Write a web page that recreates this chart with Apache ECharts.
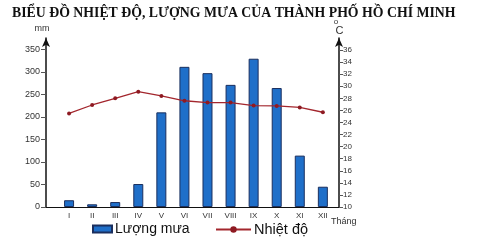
<!DOCTYPE html>
<html>
<head>
<meta charset="utf-8">
<script src="https://cdn.jsdelivr.net/npm/echarts@6/dist/echarts.min.js"></script>
<style>
html,body{margin:0;padding:0;background:#fff;}
#c{width:485px;height:241px;}
</style>
</head>
<body>
<div id="c"></div>
<script>
const months = ['I','II','III','IV','V','VI','VII','VIII','IX','X','XI','XII'];
const rainfall = [15, 6, 11, 51, 210, 311, 297, 271, 329, 264, 114, 45];
const temperature = [25.5, 26.9, 28.0, 29.1, 28.4, 27.6, 27.3, 27.3, 26.8, 26.75, 26.5, 25.7];
const titleText = 'BIỂU ĐỒ NHIỆT ĐỘ, LƯỢNG MƯA CỦA THÀNH PHỐ HỒ CHÍ MINH';

const rainData = rainfall.map((v, i) => [i + 1, v]);
const tempData = temperature.map((v, i) => [i + 1, v]);

const chart = echarts.init(document.getElementById('c'), null, {renderer: 'canvas'});
chart.setOption({
  animation: false,
  backgroundColor: '#fff',
  textStyle: {fontFamily: 'Liberation Sans'},
  title: {
    text: titleText,
    left: 12,
    top: 6,
    padding: 0,
    textStyle: {fontFamily: 'Liberation Serif', fontWeight: 'bold', fontSize: 13.8, color: '#111'}
  },
  grid: {left: 46, right: 146, top: 38, bottom: 34},
  legend: [
    {
      data: [{name: 'Lượng mưa', icon: 'rect'}],
      left: 92, top: 222, padding: 0,
      itemWidth: 19, itemHeight: 7,
      textStyle: {fontSize: 14, color: '#111', fontFamily: 'Liberation Sans', padding: [0, 0, 0, -2]}
    },
    {
      data: ['Nhiệt độ'],
      left: 215, top: 222, padding: 0,
      itemWidth: 35, itemHeight: 8,
      textStyle: {fontSize: 14.5, color: '#111', fontFamily: 'Liberation Sans', padding: [0, 0, 0, -2]}
    }
  ],
  xAxis: {
    type: 'value',
    min: 0, max: 12.7, interval: 1,
    splitLine: {show: false},
    axisTick: {show: false},
    axisLine: {lineStyle: {color: '#111', width: 1.2}},
    axisLabel: {
      fontSize: 8, color: '#333', margin: 5,
      formatter: v => (Number.isInteger(v) && v >= 1 && v <= 12) ? months[v - 1] : ''
    }
  },
  yAxis: [
    {
      type: 'value',
      min: 0, max: 375, interval: 50,
      name: 'mm', nameGap: 5,
      nameTextStyle: {fontSize: 9, color: '#333', padding: [0, 8, 0, 0]},
      splitLine: {show: false},
      axisLine: {show: true, symbol: ['none', 'arrow'], symbolSize: [6, 9], lineStyle: {color: '#111', width: 1.5}},
      axisTick: {show: true, length: 5, lineStyle: {color: '#555'}},
      axisLabel: {fontSize: 9, color: '#333', margin: 6, showMaxLabel: false}
    },
    {
      type: 'value',
      position: 'right',
      min: 10, max: 38, interval: 2,
      name: '{o|o}\n{c|C}', nameGap: 2,
      nameTextStyle: {
        rich: {
          o: {fontSize: 8, color: '#333', lineHeight: 8, padding: [0, 6, 0, 0]},
          c: {fontSize: 11, color: '#333', lineHeight: 10, padding: [0, 0, 0, 1]}
        }
      },
      splitLine: {show: false},
      axisLine: {show: true, symbol: ['none', 'arrow'], symbolSize: [6, 9], lineStyle: {color: '#111', width: 1.5}},
      axisTick: {show: true, length: 4, lineStyle: {color: '#555'}},
      axisLabel: {fontSize: 8, color: '#333', margin: 4, showMaxLabel: false,
        formatter: v => v > 36 ? '' : String(v)}
    }
  ],
  series: [
    {
      name: 'Lượng mưa',
      type: 'bar',
      yAxisIndex: 0,
      data: rainData,
      barWidth: 10,
      itemStyle: {color: '#1f6fc9', borderColor: '#1b2f5e', borderWidth: 1}
    },
    {
      name: 'Nhiệt độ',
      type: 'line',
      yAxisIndex: 1,
      data: tempData,
      symbol: 'circle',
      symbolSize: 4,
      lineStyle: {color: '#a3262d', width: 1.3},
      itemStyle: {color: '#8e1a22'}
    }
  ],
  graphic: [
    {
      type: 'text',
      left: 331, top: 217,
      style: {text: 'Tháng', fontSize: 9, fill: '#333', fontFamily: 'Liberation Sans'}
    }
  ]
});
</script>
</body>
</html>
